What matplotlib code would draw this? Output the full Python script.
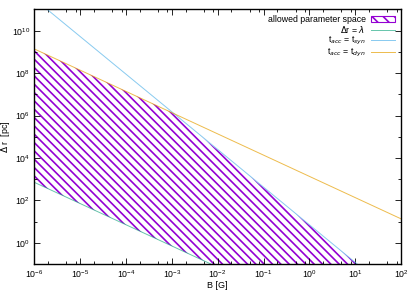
import matplotlib
matplotlib.use("Agg")
import matplotlib.pyplot as plt
from matplotlib.patches import Patch
from matplotlib.ticker import LogLocator, NullFormatter

# magnetic field range [G]
B_ends = [1e-6, 1e2]

# boundary lines, values of Delta r [pc] at B_ends
dr_lambda = [10**2.85, 10**-5.15]   # Delta r = lambda
dr_syn = [10**11.5, 10**-2.7]       # t_acc = t_syn
dr_dyn = [10**9.14, 10**1.13]       # t_acc = t_dyn

# allowed region: upper edge = min(t_syn, t_dyn) line, lower edge = lambda line
B_fill = [1e-6, 1e-3, 1e2]
fill_upper = [10**9.14, 10**6.14, 10**-2.7]
fill_lower = [10**2.85, 10**-0.15, 10**-5.15]

plt.rcParams["font.family"] = ["Liberation Sans", "DejaVu Sans"]
plt.rcParams["hatch.linewidth"] = 1.2

fig = plt.figure(figsize=(4.15, 2.91), dpi=100)
ax = fig.add_axes([0.0827, 0.0928, 0.8836, 0.8746])

ax.fill_between(B_fill, fill_lower, fill_upper, facecolor="none",
                edgecolor="#9400d3", hatch="\\\\\\\\", linewidth=0)
ax.plot(B_ends, dr_lambda, color="#009e73", lw=0.7, alpha=0.6)
ax.plot(B_ends, dr_syn, color="#56b4e9", lw=0.7, alpha=0.7)
ax.plot(B_ends, dr_dyn, color="#e69f00", lw=0.7, alpha=0.7)

ax.set_xscale("log")
ax.set_yscale("log")
ax.set_xlim(1e-6, 1e2)
ax.set_ylim(1e-1, 1e11)

ax.xaxis.set_major_locator(LogLocator(base=10, numticks=20))
ax.xaxis.set_minor_locator(LogLocator(base=10, subs=(2, 5, 8), numticks=20))
ax.xaxis.set_minor_formatter(NullFormatter())
ax.yaxis.set_major_locator(LogLocator(base=100, numticks=20))
ax.yaxis.set_minor_locator(LogLocator(base=10, subs=(1,), numticks=20))
ax.yaxis.set_minor_formatter(NullFormatter())
ax.tick_params(which="both", direction="in", top=True, right=True,
               labelsize=6.3, width=0.6, pad=3)
ax.tick_params(which="major", length=4)
ax.tick_params(which="minor", length=2.5)
for s in ax.spines.values():
    s.set_linewidth(1.0)

ax.set_xlabel("B [G]", fontsize=6.5)
ax.xaxis.set_label_coords(0.5, -0.065)
ax.set_ylabel("$\\Delta$ r  [pc]", fontsize=6.5, labelpad=0)
ax.yaxis.set_label_coords(-0.062, 0.5)

handles = [
    Patch(facecolor="none", edgecolor="#9400d3", hatch="\\\\\\", lw=0.8,
          label="allowed parameter space"),
    plt.Line2D([], [], color="#009e73", lw=0.7, alpha=0.6, label="$\\Delta$r = $\\lambda$"),
    plt.Line2D([], [], color="#56b4e9", lw=0.7, alpha=0.7, label="t$_{acc}$ = t$_{syn}$"),
    plt.Line2D([], [], color="#e69f00", lw=0.7, alpha=0.7, label="t$_{acc}$ = t$_{dyn}$"),
]
ax.legend(handles=handles, loc="upper right", frameon=False, fontsize=6.3,
          markerfirst=False, handlelength=2.8, handleheight=0.8,
          labelspacing=0.0, borderaxespad=0.25, handletextpad=0.6)

fig.savefig("out.png", dpi=100)
